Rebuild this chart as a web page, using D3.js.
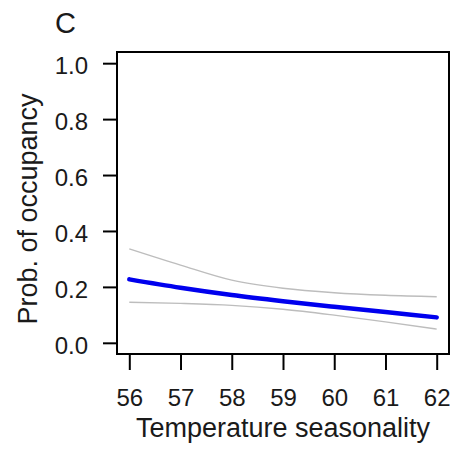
<!DOCTYPE html>
<html>
<head>
<meta charset="utf-8">
<script src="https://cdn.jsdelivr.net/npm/d3@7"></script>
<style>
  html, body { margin: 0; padding: 0; background: #fff; }
  svg { display: block; font-family: "Liberation Sans", Arial, Helvetica, sans-serif; }
</style>
</head>
<body>
<svg id="chart" width="450" height="450"></svg>
<script>
// Data
const xValues = [56, 57, 58, 59, 60, 61, 62];
const meanProb = [0.227, 0.197, 0.171, 0.149, 0.129, 0.110, 0.091];
const upperCI = [0.336, 0.278, 0.224, 0.195, 0.179, 0.170, 0.165];
const lowerCI = [0.145, 0.141, 0.134, 0.120, 0.099, 0.075, 0.049];
const xTicks = [56, 57, 58, 59, 60, 61, 62];
const yTicks = [0, 0.2, 0.4, 0.6, 0.8, 1.0];
const panelLabel = "C";
const xTitle = "Temperature seasonality";
const yTitle = "Prob. of occupancy";

const svg = d3.select("#chart");
const box = { left: 117, right: 449, top: 52, bottom: 354 };

const x = d3.scaleLinear().domain([55.76, 62.24]).range([box.left, box.right]);
const y = d3.scaleLinear().domain([-0.04, 1.04]).range([box.bottom, box.top]);

const textColor = "#1a1a1a";

// Lines
const line = d3.line().x((d, i) => x(xValues[i])).y(d => y(d)).curve(d3.curveMonotoneX);

svg.append("path").datum(upperCI).attr("d", line)
  .attr("fill", "none").attr("stroke", "#bdbdbd").attr("stroke-width", 1.4);
svg.append("path").datum(lowerCI).attr("d", line)
  .attr("fill", "none").attr("stroke", "#bdbdbd").attr("stroke-width", 1.4);
svg.append("path").datum(meanProb).attr("d", line)
  .attr("fill", "none").attr("stroke", "#0000ee").attr("stroke-width", 4.5)
  .attr("stroke-linecap", "round");

// Box
svg.append("rect")
  .attr("x", box.left).attr("y", box.top)
  .attr("width", box.right - box.left).attr("height", box.bottom - box.top)
  .attr("fill", "none").attr("stroke", "#000").attr("stroke-width", 2);

// Y axis
const yAxis = svg.append("g").attr("transform", `translate(${box.left},0)`)
  .call(d3.axisLeft(y).tickValues(yTicks).tickFormat(d3.format(".1f")).tickSize(14).tickPadding(15));
yAxis.select(".domain").remove();
yAxis.selectAll("line").attr("stroke", "#000").attr("stroke-width", 2);
yAxis.selectAll("text").attr("fill", textColor).attr("font-size", 24).attr("dy", "0.45em")
  .attr("font-family", "Liberation Sans, Arial, sans-serif");

// X axis
const xAxis = svg.append("g").attr("transform", `translate(0,${box.bottom})`)
  .call(d3.axisBottom(x).tickValues(xTicks).tickFormat(d3.format("d")).tickSize(16).tickPadding(19));
xAxis.select(".domain").remove();
xAxis.selectAll("line").attr("stroke", "#000").attr("stroke-width", 2);
xAxis.selectAll("text").attr("fill", textColor).attr("font-size", 24)
  .attr("font-family", "Liberation Sans, Arial, sans-serif");

// Titles
svg.append("text")
  .attr("x", (box.left + box.right) / 2).attr("y", 437)
  .attr("text-anchor", "middle").attr("font-size", 27).attr("fill", textColor)
  .text(xTitle);

svg.append("text")
  .attr("transform", `translate(37,${(box.top + box.bottom) / 2 + 6}) rotate(-90)`)
  .attr("text-anchor", "middle").attr("font-size", 27).attr("fill", textColor)
  .text(yTitle);

svg.append("text")
  .attr("x", 55).attr("y", 33)
  .attr("font-size", 29).attr("fill", textColor)
  .text(panelLabel);
</script>
</body>
</html>
